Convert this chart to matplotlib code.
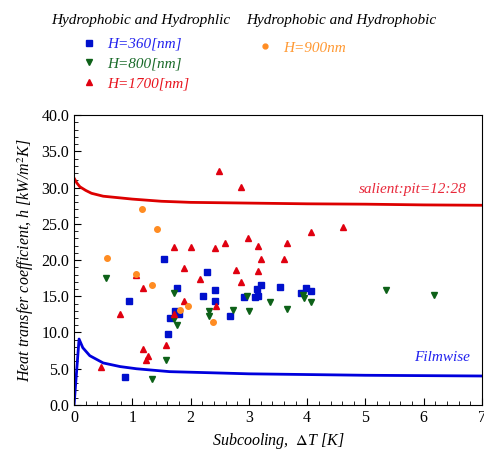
import numpy as np
import matplotlib
matplotlib.use("Agg")
import matplotlib.pyplot as plt
from matplotlib.lines import Line2D
from matplotlib.ticker import MultipleLocator, FormatStrFormatter

plt.rcParams['font.family'] = ['Liberation Serif', 'DejaVu Serif']
plt.rcParams['mathtext.fontset'] = 'stix'

# H=360 nm squares
x_360 = [0.87, 0.94, 1.54, 1.62, 1.65, 1.73, 1.76, 1.80, 2.21, 2.28, 2.41, 2.41,
         2.68, 2.92, 3.10, 3.14, 3.16, 3.21, 3.53, 3.90, 3.98, 4.06]
y_360 = [3.9, 14.3, 20.1, 9.8, 12.0, 13.0, 16.2, 12.5, 15.0, 18.3, 15.9, 14.4,
         12.3, 14.9, 14.9, 16.0, 15.1, 16.5, 16.3, 15.5, 16.2, 15.7]

# H=800 nm down triangles
x_800 = [0.55, 1.33, 1.58, 1.72, 1.72, 1.77, 2.31, 2.32, 2.72, 2.96, 3.00,
         3.37, 3.66, 3.93, 3.95, 4.07, 5.36, 6.18]
y_800 = [17.5, 3.6, 6.2, 15.4, 11.8, 11.0, 13.0, 12.3, 13.1, 15.0, 13.0,
         14.2, 13.3, 15.2, 14.7, 14.2, 15.8, 15.2]

# H=1700 nm up triangles
x_1700 = [0.46, 0.78, 1.07, 1.18, 1.19, 1.24, 1.27, 1.58, 1.72, 1.72, 1.88, 1.89,
          2.00, 2.16, 2.41, 2.44, 2.48, 2.59, 2.77, 2.87, 2.87, 2.98, 3.15, 3.16,
          3.20, 3.61, 3.66, 4.06, 4.62]
y_1700 = [5.2, 12.6, 17.9, 7.7, 16.2, 6.2, 6.8, 8.3, 12.5, 21.8, 18.9, 14.3,
          21.8, 17.4, 21.7, 13.7, 32.3, 22.3, 18.6, 30.1, 17.0, 23.0, 18.5, 21.9,
          20.2, 20.1, 22.3, 23.9, 24.5]

# H=900 nm circles (hydrophobic / hydrophobic)
x_900 = [0.56, 1.06, 1.16, 1.34, 1.43, 1.82, 1.95, 2.39]
y_900 = [20.3, 18.1, 27.0, 16.5, 24.3, 13.1, 13.7, 11.5]

# model curves
x_salient = [0, 0.05, 0.1, 0.2, 0.3, 0.5, 0.75, 1.0, 1.5, 2.0, 3.0, 4.0, 5.0, 6.0, 7.0]
y_salient = [31.3, 30.6, 30.1, 29.6, 29.2, 28.8, 28.6, 28.4, 28.1, 27.95, 27.85,
             27.75, 27.7, 27.6, 27.55]
x_film = [0, 0.086, 0.15, 0.27, 0.5, 0.79, 1.07, 1.64, 2.33, 3.0, 4.0, 5.0, 6.0, 7.0]
y_film = [0, 9.1, 7.9, 6.8, 5.8, 5.3, 5.0, 4.6, 4.45, 4.3, 4.2, 4.1, 4.05, 4.0]

c_blue = '#0010cc'
c_green = '#0d6118'
c_red = '#e00010'
c_orange = '#ff8c22'

fig = plt.figure(figsize=(4.84, 4.51), dpi=100)
ax = fig.add_axes([0.153, 0.102, 0.843, 0.643])

ax.plot(x_salient, y_salient, color='#dd0000', linewidth=2)
ax.plot(x_film, y_film, color='#0000dd', linewidth=2)

ax.plot(x_360, y_360, 's', color=c_blue, markersize=5, linestyle='none')
ax.plot(x_800, y_800, 'v', color=c_green, markersize=5, linestyle='none')
ax.plot(x_1700, y_1700, '^', color=c_red, markersize=5, linestyle='none')
ax.plot(x_900, y_900, 'o', color=c_orange, markersize=4, linestyle='none')

ax.text(6.73, 29.7, 'salient:pit=12:28', color='#e8283a', fontsize=11,
        style='italic', ha='right', va='center')
ax.text(6.8, 6.6, 'Filmwise', color='#2222ee', fontsize=11,
        style='italic', ha='right', va='center')

ax.set_xlim(0, 7)
ax.set_ylim(0, 40)
ax.xaxis.set_major_locator(MultipleLocator(1))
ax.xaxis.set_minor_locator(MultipleLocator(0.2))
ax.yaxis.set_major_locator(MultipleLocator(5))
ax.yaxis.set_minor_locator(MultipleLocator(1))
ax.yaxis.set_major_formatter(FormatStrFormatter('%.1f'))
ax.tick_params(which='both', direction='in', labelsize=11.5, top=False, right=False)
ax.tick_params(which='major', length=5)
ax.tick_params(which='minor', length=3)

ax.set_xlabel(r'Subcooling,  $\Delta$T [K]', style='italic', fontsize=11.5)
ax.set_ylabel(r'Heat transfer coefficient, h [kW/m$^2$K]', style='italic', fontsize=11.5)

# legend headers
fig.text(0.29, 0.955, 'Hydrophobic and Hydrophlic', style='italic', fontsize=11,
         ha='center', va='center')
fig.text(0.705, 0.955, 'Hydrophobic and Hydrophobic', style='italic', fontsize=11,
         ha='center', va='center')

h1 = [Line2D([], [], marker='s', color=c_blue, linestyle='none', markersize=4),
      Line2D([], [], marker='v', color=c_green, linestyle='none', markersize=4),
      Line2D([], [], marker='^', color=c_red, linestyle='none', markersize=4)]
leg1 = fig.legend(h1, ['H=360[nm]', 'H=800[nm]', 'H=1700[nm]'],
                  loc='upper left', bbox_to_anchor=(0.136, 0.948), frameon=False,
                  prop={'style': 'italic', 'size': 11}, handletextpad=0.6,
                  labelspacing=0.4, handlelength=1.2)
for t, c in zip(leg1.get_texts(), ['#2222ee', '#1a6b2a', '#e8141e']):
    t.set_color(c)

h2 = [Line2D([], [], marker='o', color=c_orange, linestyle='none', markersize=3.5)]
leg2 = fig.legend(h2, ['H=900nm'], loc='upper left', bbox_to_anchor=(0.5, 0.94),
                  frameon=False, prop={'style': 'italic', 'size': 11},
                  handletextpad=0.6, handlelength=1.2)
leg2.get_texts()[0].set_color('#ff9933')

fig.savefig('out.png', dpi=100)
